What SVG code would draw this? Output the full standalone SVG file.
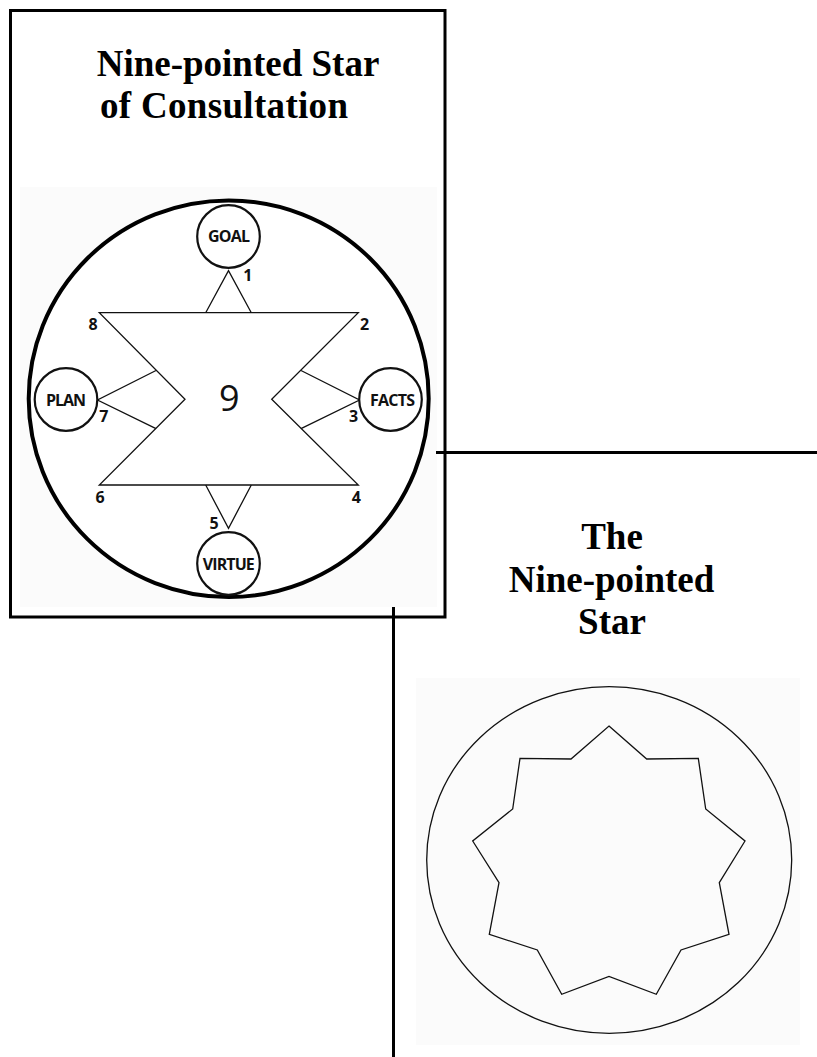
<svg xmlns="http://www.w3.org/2000/svg" width="817" height="1057" viewBox="0 0 817 1057">
<style>
.title{font-family:"Liberation Serif","Times New Roman",serif;font-weight:bold;font-size:37px;fill:#000}
.lbl{font-family:"Open Sans","Noto Sans",sans-serif;font-weight:700;font-size:16px;fill:#111;text-anchor:middle}
.num{font-family:"Open Sans","Noto Sans",sans-serif;font-weight:700;font-size:16px;fill:#111}
.thin{fill:none;stroke:#111;stroke-width:1.3;stroke-linejoin:miter}
.node{fill:#fff;stroke:#111;stroke-width:2.2}
.frame{fill:none;stroke:#000;stroke-width:3}
.bg{fill:#fbfbfb;stroke:none}
</style>
<rect width="817" height="1057" fill="#fff"/>

<g id="left-panel">
  <rect class="bg" x="20" y="187" width="417" height="420"/>
  <rect class="frame" x="10.5" y="10.5" width="434.5" height="606.5"/>
  <text class="title" x="96.7" y="76">Nine-pointed Star</text>
  <text class="title" x="100" y="118" textLength="248">of Consultation</text>
  <ellipse cx="228.7" cy="398.7" rx="200" ry="198.3" fill="#fff" stroke="#000" stroke-width="4"/>
</g>

<g id="connectors">
  <path class="thin" d="M99.3,312.7 L358.3,312.7 L271.7,399.3 L358.3,485 L99.3,485 L185,399.3 Z"/>
  <path class="thin" d="M205.7,312.7 L228.5,270.7 L251.3,312.7"/>
  <path class="thin" d="M205.7,485 L228.5,528.3 L251.3,485"/>
  <path class="thin" d="M156,370.5 L97.5,400 L156,428.6"/>
  <path class="thin" d="M301,370.5 L359.5,400 L301,428.6"/>
  <line x1="436" y1="452.5" x2="817" y2="452.5" stroke="#000" stroke-width="3"/>
  <line x1="393.5" y1="607" x2="393.5" y2="1057" stroke="#000" stroke-width="3"/>
</g>

<g id="node-goal">
  <circle class="node" cx="228.5" cy="236.5" r="31.3"/>
  <text class="lbl" x="229" y="241.5" textLength="42">GOAL</text>
</g>
<g id="node-plan">
  <circle class="node" cx="66" cy="399.5" r="31.3"/>
  <text class="lbl" x="66" y="405.5" textLength="40">PLAN</text>
</g>
<g id="node-facts">
  <circle class="node" cx="390.5" cy="399.5" r="31.3"/>
  <text class="lbl" x="392.5" y="405.5" textLength="45">FACTS</text>
</g>
<g id="node-virtue">
  <circle class="node" cx="228.5" cy="563.5" r="31.3"/>
  <text class="lbl" x="228.8" y="569.5" textLength="52">VIRTUE</text>
</g>
<g id="node-center">
  <text x="229.3" y="411" font-family="'Open Sans','Noto Sans',sans-serif" font-size="36" fill="#111" text-anchor="middle">9</text>
</g>
<g id="numbers">
  <text class="num" x="243.3" y="281">1</text>
  <text class="num" x="360" y="329.5">2</text>
  <text class="num" x="349" y="421.5">3</text>
  <text class="num" x="351.7" y="503">4</text>
  <text class="num" x="209.5" y="528.5">5</text>
  <text class="num" x="95.5" y="503">6</text>
  <text class="num" x="99.3" y="421.5">7</text>
  <text class="num" x="88.5" y="329.5">8</text>
</g>

<g id="right-panel">
  <text class="title" x="612" y="549.3" text-anchor="middle">The</text>
  <text class="title" x="611.5" y="592.3" text-anchor="middle">Nine-pointed</text>
  <text class="title" x="612" y="634" text-anchor="middle">Star</text>
  <rect class="bg" x="416" y="678" width="384" height="367"/>
  <ellipse cx="609.2" cy="860" rx="182.5" ry="173.3" fill="none" stroke="#111" stroke-width="1.3"/>
  <polygon fill="none" stroke="#111" stroke-width="1.3" points="609,726 646.7,759 698.3,758.3 705.7,809 745,841 719.3,882.7 729,934.3 681,950 656.3,994.3 609,976.5 561.7,994.3 537.3,950 489.3,934.3 499,882.7 472.7,841 512.7,809 520,758.3 571,759"/>
</g>
</svg>
